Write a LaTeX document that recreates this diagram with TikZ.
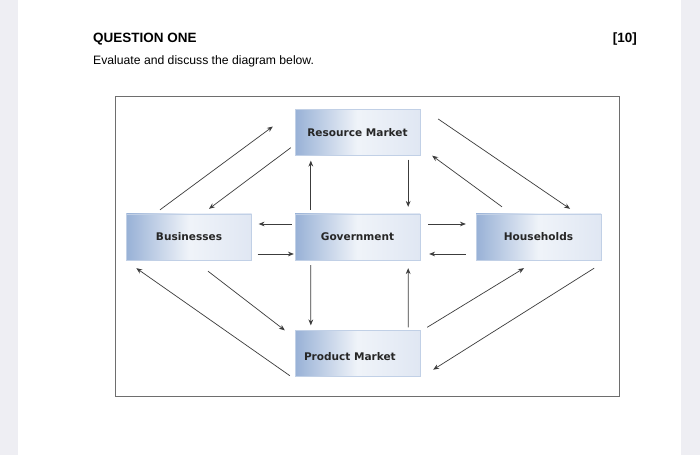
\documentclass[tikz,border=0pt]{standalone}
\usepackage{fontspec}
\setmainfont{Liberation Sans}
\newfontfamily\boxfont{DejaVu Sans}
\usetikzlibrary{arrows.meta, calc}
\definecolor{pagegray}{RGB}{238,238,243}
\definecolor{boxblue}{RGB}{152,177,214}
\definecolor{boxpale}{RGB}{224,231,243}
\definecolor{framegray}{RGB}{110,110,110}
\definecolor{flowgray}{RGB}{60,60,60}

\begin{document}
\begin{tikzpicture}[x=0.03cm, y=-0.03cm,
    market/.style={minimum width=3.75cm, minimum height=1.38cm, inner sep=0pt,
      left color=boxblue, right color=boxpale, middle color=white!85!boxblue,
      draw=boxblue!60!white, line width=0.3pt, text=black!85,
      font=\boxfont\bfseries\fontsize{9}{10}\selectfont},
    flow/.style={-{Stealth[length=5pt, width=4pt]}, flowgray, line width=0.6pt}]
  % page and margins
  \fill[pagegray] (0,0) rectangle (700,455);
  \fill[white] (18,0) rectangle (681,455);
  \useasboundingbox (0,0) rectangle (700,455);

  % heading
  \node[anchor=base west, font=\bfseries\fontsize{11.5}{13}\selectfont, inner sep=0pt] (title) at (93,43) {QUESTION ONE};
  \node[anchor=base east, font=\bfseries\fontsize{11.5}{13}\selectfont, inner sep=0pt] (marks) at (637,43) {[10]};
  \node[anchor=base west, font=\fontsize{10.4}{12}\selectfont, inner sep=0pt] (task) at (93,65) {Evaluate and discuss the diagram below.};

  % frame
  \draw[framegray, line width=0.8pt] (115,96) rectangle (619,396);

  % markets and sectors
  \node[market] (rm)  at (357.5,132.5) {Resource Market};
  \node[market] (bus) at (189,237) {Businesses};
  \node[market] (gov) at (357.5,237) {Government};
  \node[market] (hh)  at (538.5,237) {Households};
  \node[market, text width=3.21cm, inner xsep=0.27cm, align=left] (pm) at (357.5,353.5) {\raisebox{-6pt}[0pt][0pt]{Product Market}};

  % flows with the resource market
  \draw[flow] ($(bus.north)+(-29,-4)$) -- ($(rm.west)+(-22,-6)$);
  \draw[flow] ($(rm.south west)+(-4,-8)$) -- ($(bus.north)+(20,-5)$);
  \draw[flow] ($(gov.north west)+(16,-4)$) -- ($(rm.south west)+(16,5)$);
  \draw[flow] ($(rm.south east)+(-12,4)$) -- ($(gov.north east)+(-12,-7)$);
  \draw[flow] ($(rm.east)+(18,-13.5)$) -- ($(hh.north)+(31.5,-5)$);
  \draw[flow] ($(hh.north)+(-36.5,-7)$) -- ($(rm.south east)+(12,0)$);

  % flows with the government
  \draw[flow] ($(gov.west)+(-3,-13)$) -- ($(bus.east)+(7,-13)$);
  \draw[flow] ($(bus.east)+(6,17)$) -- ($(gov.west)+(-1,17)$);
  \draw[flow] ($(gov.east)+(8,-13)$) -- ($(hh.west)+(-10,-13)$);
  \draw[flow] ($(hh.west)+(-10,17)$) -- ($(gov.east)+(9,17)$);

  % flows with the product market
  \draw[flow] ($(pm.south west)+(-5,-1)$) -- ($(bus.south west)+(10,8)$);
  \draw[flow] ($(bus.south)+(19,11)$) -- ($(pm.north west)+(-10,0)$);
  \draw[flow] ($(gov.south west)+(16,5)$) -- ($(pm.north west)+(16,-5)$);
  \draw[flow] ($(pm.north east)+(-12,-3)$) -- ($(gov.south east)+(-12,8)$);
  \draw[flow] ($(pm.north east)+(7,-3)$) -- ($(hh.south)+(-14.5,8)$);
  \draw[flow] ($(hh.south east)+(-7,8)$) -- ($(pm.south east)+(13,-7)$);
\end{tikzpicture}
\end{document}
